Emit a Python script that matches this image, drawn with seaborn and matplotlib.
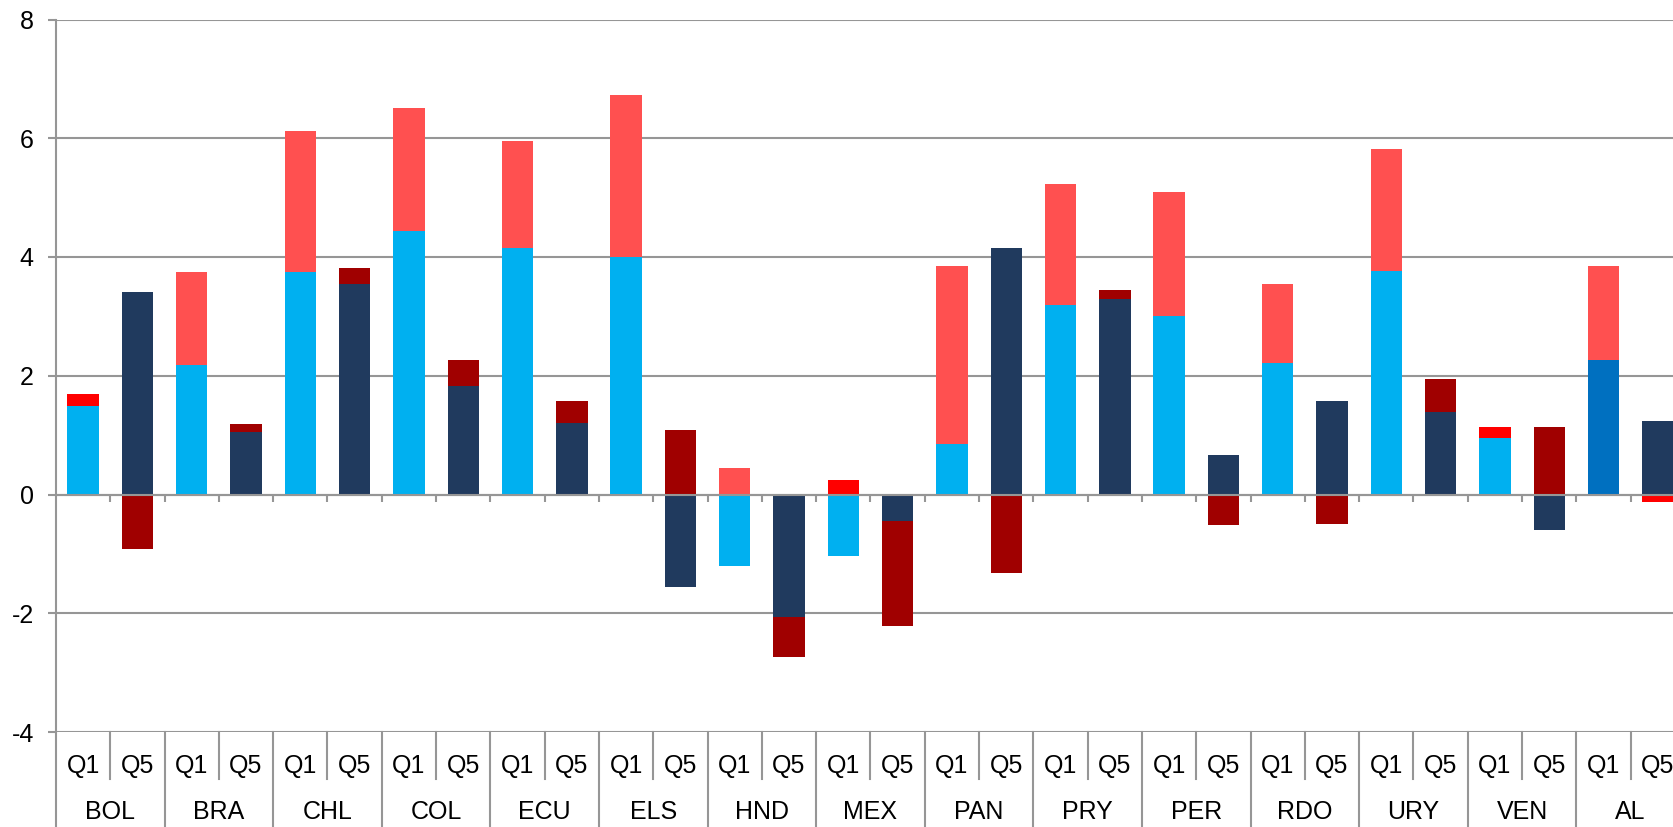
import numpy as np
import pandas as pd
import matplotlib
matplotlib.use("Agg")
import matplotlib.pyplot as plt
import seaborn as sns
from matplotlib.transforms import blended_transform_factory

# ---------------- data ----------------
countries = ["BOL", "BRA", "CHL", "COL", "ECU", "ELS", "HND", "MEX",
             "PAN", "PRY", "PER", "RDO", "URY", "VEN", "AL"]
quintiles = ["Q1", "Q5"]

# Q1 bars: lower component (blue) and upper component (red)
q1_base = [1.49, 2.18, 3.74, 4.44, 4.15, 4.00, -1.20, -1.04, 0.85, 3.19, 3.00, 2.21, 3.77, 0.96, 2.27]
q1_top = [0.21, 1.56, 2.38, 2.07, 1.81, 2.73, 0.45, 0.25, 3.00, 2.04, 2.10, 1.34, 2.05, 0.17, 1.58]
# Q5 bars: lower component (navy) and upper component (dark red)
q5_base = [3.41, 1.06, 3.54, 1.82, 1.21, -1.56, -2.07, -0.44, 4.15, 3.29, 0.67, 1.58, 1.39, -0.59, 1.24]
q5_top = [-0.91, 0.12, 0.28, 0.45, 0.37, 1.09, -0.67, -1.78, -1.32, 0.16, -0.52, -0.50, 0.56, 1.14, -0.12]

y_ticks = [-4, -2, 0, 2, 4, 6, 8]

# ---------------- styles ----------------
C_LBLUE, C_DBLUE, C_NAVY = "#00B0F0", "#0070C0", "#203A5E"
C_SALMON, C_RED, C_DRED = "#FF5050", "#FF0000", "#A00000"
GRID = "#969696"
bright_q1 = {"BOL", "MEX", "VEN"}
FS = 18

labels, base, top, base_cols, top_cols = [], [], [], [], []
for i, c in enumerate(countries):
    labels += [f"{c}_Q1", f"{c}_Q5"]
    base += [q1_base[i], q5_base[i]]
    top += [q1_top[i], q5_top[i]]
    base_cols += [C_DBLUE if c == "AL" else C_LBLUE, C_NAVY]
    top_cols += [C_RED if c in bright_q1 else C_SALMON,
                 C_RED if c == "AL" else C_DRED]

# Excel-style stacking: same-sign parts stack, opposite-sign parts start at 0
outer = [b + t if b * t > 0 else t for b, t in zip(base, top)]
df = pd.DataFrame({"bar": labels, "outer": outer, "base": base})

plt.rcParams["font.family"] = ["Liberation Sans", "DejaVu Sans"]
fig = plt.figure(figsize=(16.74, 8.27), dpi=100)
W, H = 1674, 827
ax = fig.add_axes([56 / W, (H - 732) / H, 1629 / W, (732 - 19.5) / H])

bw = 0.58
sns.barplot(data=df, x="bar", y="outer", hue="bar", palette=top_cols,
            order=labels, hue_order=labels, dodge=False, legend=False,
            width=bw, saturation=1, linewidth=0, edgecolor="none", ax=ax, zorder=2)
sns.barplot(data=df, x="bar", y="base", hue="bar", palette=base_cols,
            order=labels, hue_order=labels, dodge=False, legend=False,
            width=bw, saturation=1, linewidth=0, edgecolor="none", ax=ax, zorder=2)

ax.set_xlim(-0.5, 29.5)
ax.set_ylim(-4, 8)
ax.set_yticks(y_ticks)
ax.set_yticklabels([str(v) for v in y_ticks])
ax.set_xlabel("")
ax.set_ylabel("")
ax.set_xticks([])
ax.set_axisbelow(True)
ax.yaxis.grid(True, color=GRID, linewidth=1.5)
ax.xaxis.grid(False)
for s in ["top", "right", "bottom"]:
    ax.spines[s].set_visible(False)
ax.spines["left"].set_color(GRID)
ax.spines["left"].set_linewidth(1.5)
ax.tick_params(axis="y", length=6, width=1.5, color=GRID, pad=10, labelsize=FS,
               labelcolor="black")
ax.set_facecolor("white")

# zero axis line with small boundary ticks
ax.axhline(0, color=GRID, linewidth=1.5, zorder=3)
ax.vlines(np.arange(0.5, 29.5, 1.0), -0.13, 0, color=GRID, linewidth=1.5, zorder=3)

# two-level category labels
tr = blended_transform_factory(ax.transData, ax.transAxes)
for g, c in enumerate(countries):
    x0 = 2 * g
    ax.text(x0, -0.048, "Q1", transform=tr, ha="center", va="center", fontsize=FS)
    ax.text(x0 + 1, -0.048, "Q5", transform=tr, ha="center", va="center", fontsize=FS)
    ax.text(x0 + 0.5, -0.112, c, transform=tr, ha="center", va="center", fontsize=FS)
    ax.plot([x0 + 0.5, x0 + 0.5], [0, -0.066], transform=tr, color=GRID,
            linewidth=1.5, clip_on=False)
    ax.plot([x0 - 0.5, x0 - 0.5], [0, -0.14], transform=tr, color=GRID,
            linewidth=1.5, clip_on=False)

fig.savefig("out.png", dpi=100, facecolor="white")
